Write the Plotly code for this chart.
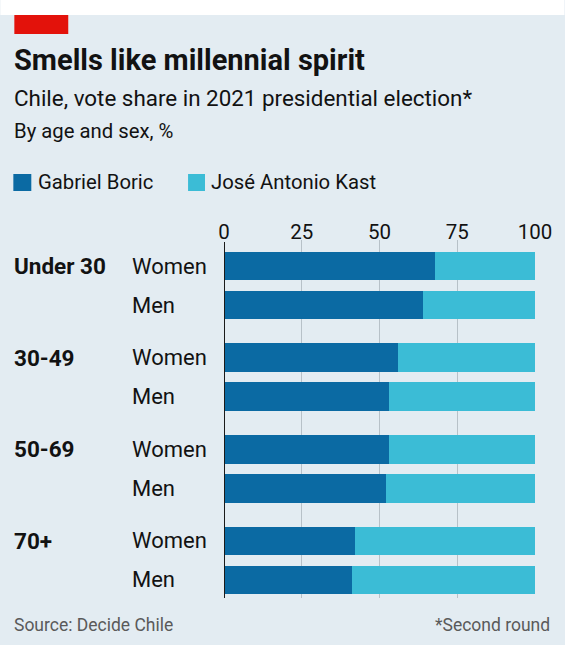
import plotly.graph_objects as go

# ---------------- data ----------------
groups = ["Under 30", "30-49", "50-69", "70+"]
sexes = ["Women", "Men"]
boric = [68, 64, 56, 53, 53, 52, 42, 41]
kast = [32, 36, 44, 47, 47, 48, 58, 59]
ticks = [0, 25, 50, 75, 100]
series_names = ["Gabriel Boric", "José Antonio Kast"]

# ---------------- style ----------------
W, H = 565, 645
L, R, T, B = 224, 535.5, 240, 598
BG = "#e3ecf2"
C_BORIC = "#0b6aa3"
C_KAST = "#3bbcd6"
FONT = "Roboto"
TXT = "#121212"
GROUP_STEP = 2.35  # slot units between groups

def px2x(p):
    return (p - L) / (R - L)

def py2y(p):
    return (B - p) / (B - T)

pos = []
cat_sex = []
cat_group = []
for gi, g in enumerate(groups):
    for si, s in enumerate(sexes):
        pos.append(gi * GROUP_STEP + si)
        cat_sex.append(s)
        cat_group.append(g if si == 0 else "")

fig = go.Figure()
fig.add_trace(go.Bar(y=pos, x=boric, orientation="h", width=0.73,
                     marker=dict(color=C_BORIC, line=dict(width=0)),
                     name=series_names[0]))
fig.add_trace(go.Bar(y=pos, x=kast, orientation="h", width=0.73,
                     marker=dict(color=C_KAST, line=dict(width=0)),
                     name=series_names[1]))

ymin = -(266 - T) / 39.0
ymax = (B - 266) / 39.0

fig.update_layout(
    width=W, height=H, barmode="stack", showlegend=False,
    paper_bgcolor=BG, plot_bgcolor=BG,
    margin=dict(l=L, r=W - R, t=T, b=H - B, pad=0),
    font=dict(family=FONT, color=TXT),
    xaxis=dict(range=[0, 100], side="top", tickvals=ticks,
               ticktext=[str(t) for t in ticks], showgrid=False,
               zeroline=False, showline=False, ticks="",
               ticklabelstandoff=-4,
               tickfont=dict(size=20.5, color=TXT, family=FONT),
               minor=dict(tickvals=[25, 50, 75], showgrid=True,
                          gridcolor="#b7c1c8", gridwidth=1, ticks="")),
    yaxis=dict(range=[ymax, ymin], showticklabels=False, showgrid=False,
               zeroline=False, showline=False, ticks=""),
    bargap=0,
)

shapes = [
    dict(type="rect", xref="paper", yref="paper", x0=px2x(0), x1=px2x(W),
         y0=py2y(15), y1=py2y(0), fillcolor="white", line=dict(width=0),
         layer="below"),
    dict(type="rect", xref="paper", yref="paper", x0=px2x(14), x1=px2x(68),
         y0=py2y(34), y1=py2y(15), fillcolor="#e3120b", line=dict(width=0)),
    dict(type="line", xref="x", yref="paper", x0=0, x1=0, y0=0, y1=py2y(242),
         line=dict(color="#1a1a1a", width=2)),
    dict(type="rect", xref="paper", yref="paper", x0=px2x(13), x1=px2x(31),
         y0=py2y(191), y1=py2y(174), fillcolor=C_BORIC, line=dict(width=0)),
    dict(type="rect", xref="paper", yref="paper", x0=px2x(188), x1=px2x(205),
         y0=py2y(191), y1=py2y(174), fillcolor=C_KAST, line=dict(width=0)),
]
fig.update_layout(shapes=shapes)

ann = []
def txt(text, xp, yp, size, bold=False, color=TXT, xanchor="left"):
    ann.append(dict(text=f"<b>{text}</b>" if bold else text, xref="paper",
                    yref="paper", x=px2x(xp), y=py2y(yp), xanchor=xanchor,
                    yanchor="middle", showarrow=False,
                    font=dict(size=size, color=color, family=FONT)))

txt("Smells like millennial spirit", 12, 60, 29, bold=True)
txt("Chile, vote share in 2021 presidential election*", 12, 98, 22.4)
txt("By age and sex, %", 12, 131, 20.3)
txt(series_names[0], 36, 182, 20.3)
txt(series_names[1], 209, 182, 20.3)
txt("Source: Decide Chile", 12, 625, 17.5, color="#5a5a5a")
txt("*Second round", 553, 625, 17.5, color="#5a5a5a", xanchor="right")

for p, s, g in zip(pos, cat_sex, cat_group):
    ann.append(dict(text=s, xref="paper", yref="y", x=px2x(130), y=p,
                    xanchor="left", yanchor="middle", showarrow=False,
                    font=dict(size=22, color=TXT, family=FONT)))
    if g:
        ann.append(dict(text=f"<b>{g}</b>", xref="paper", yref="y", x=px2x(12),
                        y=p, xanchor="left", yanchor="middle", showarrow=False,
                        font=dict(size=22.5, color=TXT, family=FONT)))
fig.update_layout(annotations=ann)

fig.write_html("out.html", config={"displayModeBar": False},
               post_script="document.body.style.margin='0px';"
                           "document.body.style.overflow='hidden';")
